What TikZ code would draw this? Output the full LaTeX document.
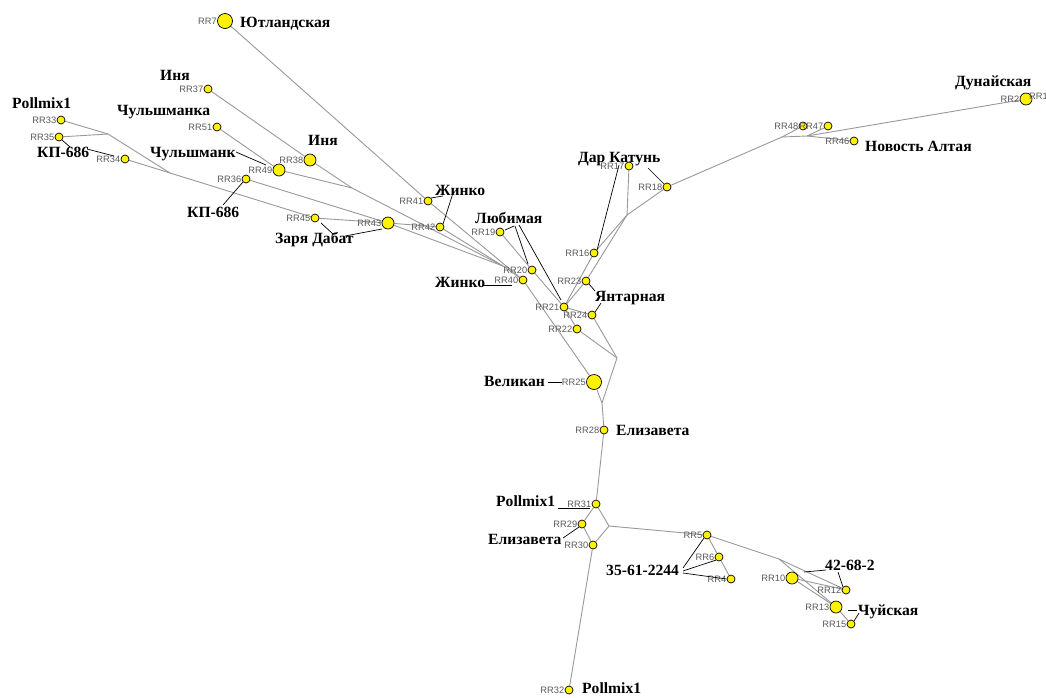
\documentclass[tikz,border=0pt]{standalone}
\usepackage{fontspec}
\setmainfont{Liberation Serif}
\newfontfamily\rrfont{Liberation Sans}
\pgfdeclarelayer{bg}
\pgfsetlayers{bg,main}
\tikzset{
  hap/.style={circle, draw=black, line width=0.7pt, fill=yellow, inner sep=0pt},
  hs/.style={hap, minimum size=8pt},
  hm/.style={hap, minimum size=12pt},
  hl/.style={hap, minimum size=15pt},
  rr/.style={font=\rrfont\fontsize{9.3}{9.3}\selectfont, text=black!65, inner sep=0pt, anchor=east},
  nm/.style={font=\bfseries\fontsize{15.6}{15.6}\selectfont, inner sep=0pt, anchor=base west},
  edge/.style={draw=black!40, line width=0.9pt},
  lead/.style={draw=black, line width=0.7pt},
}
\newcommand\hp[4]{\node[#4] (n#1) at (#2,#3) {}; \node[rr] (l#1) at ([xshift=-0.2pt]n#1.west) {RR#1};}
\begin{document}
\begin{tikzpicture}[x=1pt,y=-1pt]
\useasboundingbox (0,0) rectangle (1046,697);
\begin{pgfonlayer}{bg}
\fill[white] (0,0) rectangle (1046,697);
\end{pgfonlayer}
% haplotype nodes
\hp{7}{225}{21}{hl}
\hp{37}{208}{89}{hs}
\hp{51}{217}{127}{hs}
\hp{33}{61}{120}{hs}
\hp{35}{59}{137}{hs}
\hp{34}{125}{159}{hs}
\hp{38}{310}{160}{hm}
\hp{49}{279}{170}{hm}
\hp{36}{246}{179}{hs}
\hp{45}{315}{218}{hs}
\hp{43}{388}{223}{hm}
\hp{41}{428}{201}{hs}
\hp{42}{440}{227}{hs}
\hp{19}{500}{232}{hs}
\hp{20}{532}{270}{hs}
\hp{40}{523}{280}{hs}
\hp{21}{564}{307}{hs}
\hp{23}{586}{281}{hs}
\hp{24}{592}{315}{hs}
\hp{22}{577}{329}{hs}
\hp{25}{594}{382}{hl}
\hp{28}{604}{430}{hs}
\hp{16}{594}{253}{hs}
\hp{17}{629}{166}{hs}
\hp{18}{667}{187}{hs}
\hp{48}{803}{126}{hs}
\hp{47}{828}{126}{hs}
\hp{46}{854}{141}{hs}
\hp{2}{1026}{99}{hm}
\node[rr, anchor=west] (l1) at (1029,96) {RR1};
\hp{31}{596}{504}{hs}
\hp{29}{582}{524}{hs}
\hp{30}{593}{545}{hs}
\hp{5}{707}{535}{hs}
\hp{6}{719}{557}{hs}
\hp{4}{731}{579}{hs}
\hp{10}{792}{578}{hm}
\hp{12}{846}{590}{hs}
\hp{13}{836}{607}{hm}
\hp{15}{851}{624}{hs}
\hp{32}{569}{690}{hs}
% median vectors
\coordinate (m1) at (108,134);
\coordinate (m2) at (170,173);
\coordinate (m3) at (352,188);
\coordinate (mc) at (503,266);
\coordinate (mq) at (627,215);
\coordinate (mr) at (617,358);
\coordinate (ms) at (602,403);
\coordinate (mt) at (782,137);
\coordinate (mu) at (807,136);
\coordinate (mv) at (609,526);
\coordinate (mw) at (779,559);
\begin{pgfonlayer}{bg}
\draw[edge] (n33) -- (m1);
\draw[edge] (n35) -- (m1);
\draw[edge] (m1) -- (m2);
\draw[edge] (n34) -- (m2);
\draw[edge] (m2) -- (n45);
\draw[edge] (n45) -- (n43);
\draw[edge] (n36) -- (n43);
\draw[edge] (n43) -- (n42);
\draw[edge] (n43) -- (mc);
\draw[edge] (n42) -- (mc);
\draw[edge] (n37) -- (n38);
\draw[edge] (n38) -- (m3);
\draw[edge] (n49) -- (m3);
\draw[edge] (n51) -- (n49);
\draw[edge] (m3) -- (mc);
\draw[edge] (n7) -- (n41);
\draw[edge] (n41) -- (n40);
\draw[edge] (mc) -- (n40);
\draw[edge] (n40) -- (n25);
\draw[edge] (n19) -- (n20);
\draw[edge] (n20) -- (n21);
\draw[edge] (n21) -- (n22);
\draw[edge] (n22) -- (mr);
\draw[edge] (n21) -- (n24);
\draw[edge] (n24) -- (mr);
\draw[edge] (mr) -- (ms);
\draw[edge] (n25) -- (ms);
\draw[edge] (ms) -- (n28);
\draw[edge] (n21) -- (n16);
\draw[edge] (n21) -- (n23);
\draw[edge] (n23) -- (mq);
\draw[edge] (n16) -- (mq);
\draw[edge] (n17) -- (mq);
\draw[edge] (mq) -- (n18);
\draw[edge] (n18) -- (mt);
\draw[edge] (mt) -- (n48);
\draw[edge] (mt) -- (mu);
\draw[edge] (mu) -- (n47);
\draw[edge] (mu) -- (n46);
\draw[edge] (mu) -- (n2);
\draw[edge] (n28) -- (n31);
\draw[edge] (n31) -- (n29);
\draw[edge] (n31) -- (mv);
\draw[edge] (n29) -- (n30);
\draw[edge] (mv) -- (n30);
\draw[edge] (n30) -- (n32);
\draw[edge] (mv) -- (n5);
\draw[edge] (n5) -- (n6);
\draw[edge] (n6) -- (n4);
\draw[edge] (n5) -- (mw);
\draw[edge] (mw) -- (n12);
\draw[edge] (mw) -- (n13);
\draw[edge] (n10) -- (n12);
\draw[edge] (n10) -- (n13);
\draw[edge] (n13) -- (n15);
\end{pgfonlayer}
% population labels
\node[nm] (t1) at (240,27) {Ютландская};
\node[nm] (t2) at (160,80) {Иня};
\node[nm] (t3) at (12,108) {Pollmix1};
\node[nm] (t4) at (117,115) {Чульшманка};
\node[nm] (t5) at (37,157) {КП-686};
\node[nm] (t6) at (308,145) {Иня};
\node[nm] (t7) at (150,157) {Чульшманк};
\node[nm] (t8) at (187,217) {КП-686};
\node[nm] (t9) at (275,243) {Заря Дабат};
\node[nm] (t10) at (435,195) {Жинко};
\node[nm] (t11) at (475,223) {Любимая};
\node[nm] (t12) at (435,287) {Жинко};
\node[nm] (t13) at (578,162) {Дар Катунь};
\node[nm] (t14) at (595,301) {Янтарная};
\node[nm] (t15) at (484,386) {Великан};
\node[nm] (t16) at (955,86) {Дунайская};
\node[nm] (t17) at (865,151) {Новость Алтая};
\node[nm] (t18) at (616,435) {Елизавета};
\node[nm] (t19) at (496,506) {Pollmix1};
\node[nm] (t20) at (488,544) {Елизавета};
\node[nm] (t21) at (606,575) {35-61-2244};
\node[nm] (t22) at (825,570) {42-68-2};
\node[nm] (t23) at (858,615) {Чуйская};
\node[nm] (t24) at (582,693) {Pollmix1};
% leader lines
\coordinate (a1) at (87,149); \coordinate (b1) at (114,156);
\draw[lead] (a1) -- (b1);
\coordinate (b2) at (70,147);
\draw[lead] (n35.south east) -- (b2);
\coordinate (a3) at (236,152); \coordinate (b3) at (266,165);
\draw[lead] (a3) -- (b3);
\coordinate (a4) at (223,205);
\draw[lead] (a4) -- (n36.south west);
\coordinate (a5) at (321,223); \coordinate (b5) at (333,234);
\draw[lead] (a5) -- (b5);
\coordinate (a6) at (345,236); \coordinate (b6) at (382,229);
\draw[lead] (a6) -- (b6);
\coordinate (a7) at (443,196);
\draw[lead] (n41.north east) -- (a7);
\coordinate (a8) at (453,193);
\draw[lead] (a8) -- (n42.north east);
\coordinate (a9) at (514,226); \coordinate (b9) at (505,230);
\draw[lead] (a9) -- (b9);
\coordinate (a10) at (515,226); \coordinate (b10) at (528,264);
\draw[lead] (a10) -- (b10);
\coordinate (a11) at (519,225); \coordinate (b11) at (561,300);
\draw[lead] (a11) -- (b11);
\coordinate (a12) at (484,285); \coordinate (b12) at (512,285);
\draw[lead] (a12) -- (b12);
\coordinate (a13) at (595,291);
\draw[lead] (n23.south east) -- (a13);
\coordinate (a14) at (601,303);
\draw[lead] (n24.north east) -- (a14);
\coordinate (a15) at (548,382); \coordinate (b15) at (562,382);
\draw[lead] (a15) -- (b15);
\coordinate (a16) at (619,165);
\draw[lead] (a16) -- (n16.north east);
\coordinate (a17) at (648,168);
\draw[lead] (a17) -- (n18.north west);
\coordinate (a18) at (558,508); \coordinate (b18) at (590,508);
\draw[lead] (a18) -- (b18);
\coordinate (a19) at (563,538);
\draw[lead] (a19) -- (n29.south west);
\coordinate (a20) at (683,568);
\draw[lead] (a20) -- (n5.south west);
\coordinate (a21) at (683,571);
\draw[lead] (a21) -- (n6.south west);
\coordinate (a22) at (683,573);
\draw[lead] (a22) -- (n4.west);
\coordinate (a23) at (804,572); \coordinate (b23) at (826,570);
\draw[lead] (a23) -- (b23);
\coordinate (a24) at (838,572);
\draw[lead] (a24) -- (n12.north west);
\coordinate (a25) at (848,610); \coordinate (b25) at (857,610);
\draw[lead] (a25) -- (b25);
\coordinate (a26) at (859,613);
\draw[lead] (a26) -- (n15.north east);
\end{tikzpicture}
\end{document}
